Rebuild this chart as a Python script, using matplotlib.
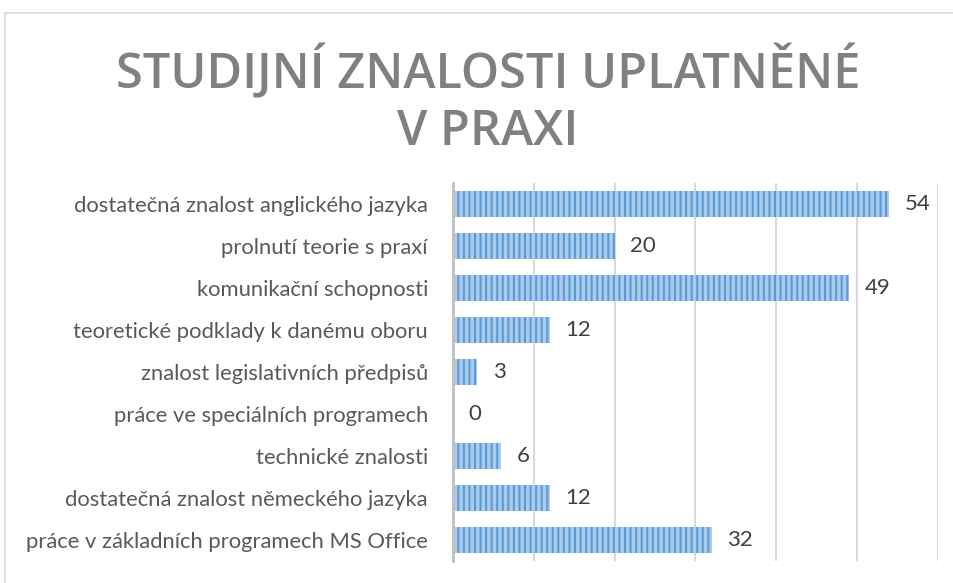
import matplotlib.pyplot as plt
from matplotlib.patches import Rectangle

plt.rcParams['hatch.linewidth'] = 1.5

categories = [
    'dostatečná znalost anglického jazyka',
    'prolnutí teorie s praxí',
    'komunikační schopnosti',
    'teoretické podklady k danému oboru',
    'znalost legislativních předpisů',
    'práce ve speciálních programech',
    'technické znalosti',
    'dostatečná znalost německého jazyka',
    'práce v základních programech MS Office',
]
values = [54, 20, 49, 12, 3, 0, 6, 12, 32]
title = 'STUDIJNÍ ZNALOSTI UPLATNĚNÉ\nV PRAXI'

fig = plt.figure(figsize=(9.54, 5.83), dpi=100)
fig.patches.append(Rectangle((5 / 954, -0.1), 1.2, 1 - 13 / 583 + 0.1, transform=fig.transFigure,
                             fill=False, edgecolor='#d9d9d9', linewidth=1.2))

ax = fig.add_axes([453 / 954, 22 / 583, 485 / 954, 378 / 583])
y = list(range(len(categories)))
ax.barh(y, values, height=0.64, color='#aacbec', edgecolor='#5b9bd5', linewidth=0,
        hatch='|||', zorder=3)

for yi, v in zip(y, values):
    ax.text(v + 1.9, yi, str(v), va='center', ha='left', fontsize=16,
            color='#404040', family='Lato')

ax.set_xlim(0, 60)
ax.set_ylim(len(categories) - 0.5, -0.5)
ax.set_xticks(range(0, 61, 10))
ax.set_xticklabels([])
ax.tick_params(axis='x', length=0)
ax.tick_params(axis='y', length=0, pad=18)
ax.set_yticks(y)
ax.set_yticklabels(categories, fontsize=15.8, color='#595959', family='Lato')
ax.grid(axis='x', color='#d9d9d9', linewidth=1.5, zorder=0)
for s in ['top', 'right', 'bottom']:
    ax.spines[s].set_visible(False)
ax.spines['left'].set_color('#bfbfbf')
ax.spines['left'].set_linewidth(2)
ax.spines['left'].set_zorder(4)

fig.text(488 / 954, 1 - 101 / 583, title, ha='center', va='center', fontsize=35,
         fontweight='semibold', color='#808080', family='Open Sans', linespacing=1.22)

fig.savefig('out.png', dpi=100)
